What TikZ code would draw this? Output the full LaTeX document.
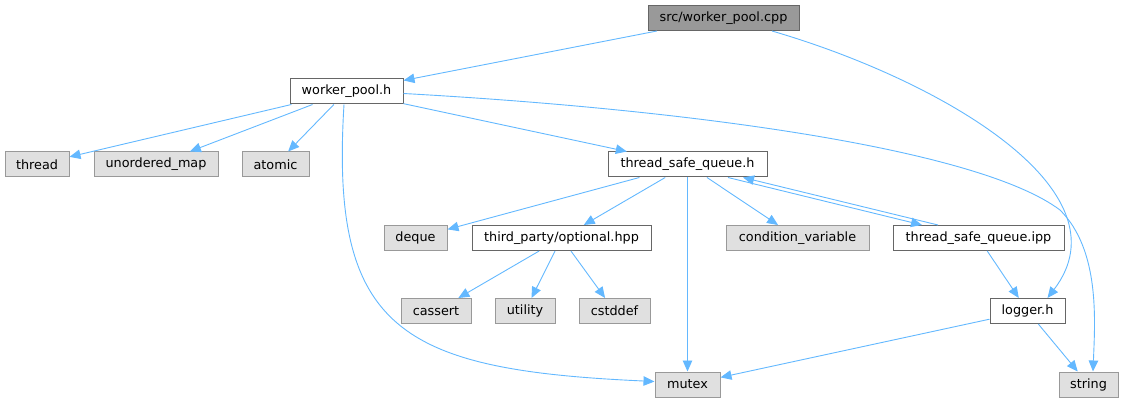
\documentclass[tikz,border=0pt]{standalone}
\usepackage{fontspec}
\setmainfont{DejaVu Sans}
\usetikzlibrary{arrows.meta,calc}
\definecolor{edgec}{HTML}{63B8FF}
\definecolor{extfill}{HTML}{E0E0E0}
\definecolor{extborder}{HTML}{999999}
\definecolor{srcfill}{HTML}{999999}
\definecolor{boxborder}{HTML}{666666}
\begin{document}
\begin{tikzpicture}[x=1pt,y=-1pt,
  box/.style={draw=boxborder, fill=white, line width=1pt, minimum height=25pt, inner sep=0pt, font=\fontsize{12.8}{15}\selectfont},
  ext/.style={box, draw=extborder, fill=extfill},
  srcbox/.style={box, fill=srcfill},
  edge/.style={draw=edgec, line width=0.9pt, -{Triangle[length=11pt,width=9.5pt]}}
]
\useasboundingbox (0,0) rectangle (1124,403);
% nodes
\node[srcbox, minimum width=151pt] (cpp) at (723.5,18) {src/worker\_pool.cpp};
\node[box, minimum width=113pt] (wph) at (346.5,91.5) {worker\_pool.h};
\node[ext, minimum width=64pt] (thread) at (37,164.5) {thread};
\node[ext, minimum width=124pt] (umap) at (156,164.5) {unordered\_map};
\node[ext, minimum width=67pt] (atomic) at (275.5,164.5) {atomic};
\node[box, minimum width=159pt] (tsqh) at (687.5,164.5) {thread\_safe\_queue.h};
\node[ext, minimum width=63pt] (deque) at (415.5,238) {deque};
\node[box, minimum width=179pt] (opt) at (561.5,238) {third\_party/optional.hpp};
\node[ext, minimum width=143pt] (condvar) at (797.5,238) {condition\_variable};
\node[box, minimum width=171pt] (ipp) at (978.5,238) {thread\_safe\_queue.ipp};
\node[ext, minimum width=70pt] (cassert) at (436,311) {cassert};
\node[ext, minimum width=60pt] (utility) at (525,311) {utility};
\node[ext, minimum width=71pt] (cstddef) at (614.5,311) {cstddef};
\node[box, minimum width=75pt] (logger) at (1027.5,311) {logger.h};
\node[ext, minimum width=65pt] (mutex) at (687.5,384.5) {mutex};
\node[ext, minimum width=59pt] (string) at (1088.5,384.5) {string};
% edges
\draw[edge] (cpp) -- (wph);
\draw[edge] ($(cpp.south)+(48.5,0)$) .. controls (940,80) and (1130,190) .. ($(logger.north)+(20,0)$);
\draw[edge] (wph) -- (thread);
\draw[edge] (wph) -- (umap);
\draw[edge] (wph) -- (atomic);
\draw[edge] (wph) -- (tsqh);
\draw[edge] ($(wph.south)+(-2.5,0)$) .. controls (330,330) and (400,370) .. ($(mutex.west)+(0,-3)$);
\draw[edge] ($(wph.east)+(0,2)$) .. controls (700,110) and (980,150) .. (1060,210) .. controls (1100,250) and (1095,320) .. ($(string.north)+(4.5,0)$);
\draw[edge] (tsqh) -- (deque);
\draw[edge] (tsqh) -- (opt);
\draw[edge] (tsqh) -- (mutex);
\draw[edge] (tsqh) -- (condvar);
\draw[edge] ($(tsqh.south)+(40.5,0)$) -- ($(ipp.north)+(-56.5,0)$);
\draw[edge] ($(ipp.north)+(-40.5,0)$) -- ($(tsqh.south)+(55.5,0)$);
\draw[edge] (opt) -- (cassert);
\draw[edge] (opt) -- (utility);
\draw[edge] (opt) -- (cstddef);
\draw[edge] (ipp) -- (logger);
\draw[edge] (logger) -- (mutex);
\draw[edge] (logger) -- (string);
\end{tikzpicture}
\end{document}
